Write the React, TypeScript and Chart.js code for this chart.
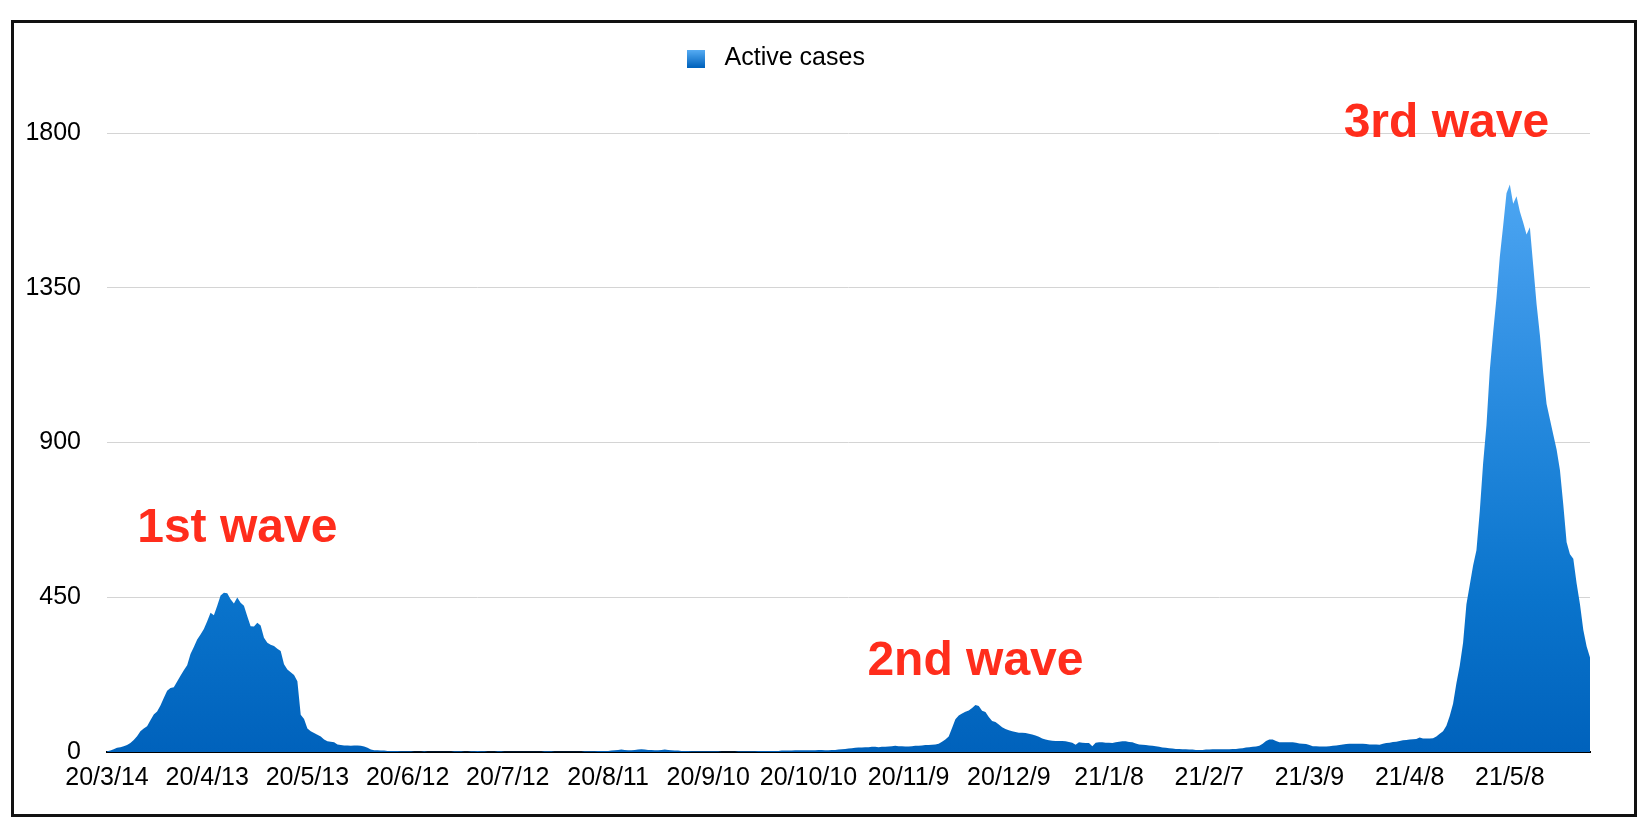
import { useEffect, useRef } from 'react';
import { Chart, registerables } from 'chart.js';

Chart.register(...registerables);

// Daily active cases, starting 2020-03-14
const WAVE1_DAILY = [
  2, 4, 8, 12, 14, 17, 20, 26, 35, 46, 60, 68, 75, 92, 109, 118, 135, 157, 178, 186,
  188, 205, 222, 238, 252, 285, 305, 327, 342, 358,
  380, 405, 398, 425, 455, 463, 462, 444, 432, 449, 434, 425, 395, 366, 365, 376, 368, 332, 318, 312,
  308, 300, 294, 255, 240, 232, 224, 206, 108, 96,
  68, 60, 55, 50, 45, 36, 31, 30, 28, 22, 20, 19, 19, 18, 19, 19, 18, 16, 12, 7,
  5, 5, 4, 4, 3, 3, 3, 3, 2, 2,
];
const LULL_DAILY = [
  2, 2, 1, 1, 1, 2, 1, 1, 1, 1, 1, 1, 1, 1, 2, 2, 2, 1, 1, 2, 2, 3, 2, 2, 1, 1, 1, 2, 2, 1,
  1, 1, 1, 1, 1, 1, 1, 1, 1, 1, 1, 2, 2, 2, 1, 1, 1, 1, 1, 1, 1, 1, 1, 2, 2, 2, 2, 3, 3, 3,
  3, 4, 5, 6, 7, 6, 5, 5, 6, 7, 8, 7, 6, 6, 5, 5, 6, 7, 6, 5, 4, 4, 3, 3, 3, 2, 2, 2, 2, 2,
  2, 2, 2, 2, 1, 1, 1, 1, 1, 2, 2, 2, 2, 2, 2, 3, 3, 3, 3, 3, 3, 3, 4, 4, 4, 4, 5, 5, 5, 5,
  5, 5, 5, 6, 6, 5, 5, 6, 6, 7, 8, 9, 10, 11, 12, 13, 13, 14, 14, 15, 15, 14, 15, 15, 16, 17, 18, 17, 17, 16,
];
const WAVE2_DAILY = [
  16, 17, 18, 18, 19, 20, 20, 21, 22, 24, 30, 36, 45, 70, 95, 106, 112, 117, 121, 128,
  137, 134, 120, 116, 102, 90, 87, 80, 72, 67,
  63, 60, 58, 56, 56, 55, 53, 51, 48, 44, 39, 36, 34, 33, 32, 32, 32, 31, 29, 27,
  21, 28, 27, 26, 26, 17, 27, 28, 28, 27,
  27, 26, 28, 30, 31, 31, 29, 28, 25, 22, 21, 20, 19, 18, 17, 15, 13, 12, 11, 10,
  9, 9, 8, 8, 7, 7, 6, 6, 6, 7,
  7, 8, 8, 8, 8, 8, 8, 9, 9, 10, 11, 13, 14, 15, 16, 18, 24, 32, 36, 36,
  32, 28, 28, 28, 28, 28, 27, 25, 24, 23,
  20, 17, 17, 16, 16, 16, 17, 18, 19, 20, 22, 23, 24, 24, 24, 24, 24, 23, 22, 22,
  22, 21, 24, 26, 27, 29, 30, 32, 34, 35,
];
const WAVE3_DAILY = [
  36, 37, 38, 42, 39, 39, 39, 40, 45, 53, 60, 76, 105, 140, 200, 251, 318, 430, 486, 542,
  587, 700, 840, 950, 1110, 1220, 1320, 1440, 1530, 1625,
  1650, 1594, 1616, 1572, 1540, 1505, 1526, 1415, 1303, 1213, 1102, 1012, 968, 923, 880, 820, 720, 610, 575, 562,
  490, 430, 355, 307, 275,
];

const ACTIVE_CASES = [...WAVE1_DAILY, ...LULL_DAILY, ...WAVE2_DAILY, ...WAVE3_DAILY];

const START_Y = 2020;
const START_M = 3;
const START_D = 14;
const CATEGORIES = ACTIVE_CASES.map((_, i) => {
  const d = new Date(Date.UTC(START_Y, START_M - 1, START_D + i));
  return `${d.getUTCFullYear() % 100}/${d.getUTCMonth() + 1}/${d.getUTCDate()}`;
});
const TICK_EVERY_DAYS = 30;
const Y_TICKS = [0, 450, 900, 1350, 1800];
const Y_MAX = 1960;

const ANNOTATIONS = [
  { text: '1st wave', index: 39, value: 612 },
  { text: '2nd wave', index: 260, value: 224 },
  { text: '3rd wave', index: 401, value: 1788 },
];

const FONT = '"Liberation Sans", Arial, Helvetica, sans-serif';

export default function App() {
  const ref = useRef<HTMLCanvasElement | null>(null);

  useEffect(() => {
    const canvas = ref.current;
    if (!canvas) return;

    const swatch = document.createElement('canvas');
    swatch.width = 18;
    swatch.height = 18;
    const sctx = swatch.getContext('2d')!;
    const sg = sctx.createLinearGradient(0, 0, 0, 18);
    sg.addColorStop(0, '#58AEF5');
    sg.addColorStop(1, '#0062BC');
    sctx.fillStyle = sg;
    sctx.fillRect(0, 0, 18, 18);

    const legendShift = {
      id: 'legendShift',
      afterLayout(chart: any) {
        if (chart.legend) {
          chart.legend.left -= 26;
          chart.legend.right -= 26;
          chart.legend.top += 3;
          chart.legend.bottom += 3;
        }
      },
    };

    const annotations = {
      id: 'waveLabels',
      afterDraw(chart: any) {
        const { ctx, scales } = chart;
        ctx.save();
        ctx.font = `bold 48px ${FONT}`;
        ctx.fillStyle = '#FF2D1C';
        ctx.textAlign = 'center';
        ctx.textBaseline = 'alphabetic';
        for (const a of ANNOTATIONS) {
          const x = scales.x.getPixelForValue(a.index);
          const y = scales.y.getPixelForValue(a.value);
          ctx.fillText(a.text, x, y);
        }
        ctx.restore();
      },
    };

    const chart = new Chart(canvas, {
      type: 'line',
      data: {
        labels: CATEGORIES,
        datasets: [
          {
            label: 'Active cases',
            data: ACTIVE_CASES,
            fill: 'origin',
            borderWidth: 0,
            pointRadius: 0,
            tension: 0,
            backgroundColor: (context: any) => {
              const { chart: c } = context;
              const area = c.chartArea;
              if (!area) return '#0A76CE';
              const g = c.ctx.createLinearGradient(0, area.bottom, 0, area.top);
              g.addColorStop(0, 'rgb(0,98,188)');
              g.addColorStop(0.23, 'rgb(10,116,204)');
              g.addColorStop(0.46, 'rgb(33,134,219)');
              g.addColorStop(0.69, 'rgb(60,152,233)');
              g.addColorStop(0.84, 'rgb(76,166,242)');
              g.addColorStop(1, 'rgb(86,173,247)');
              return g;
            },
          },
        ],
      },
      options: {
        responsive: false,
        animation: false,
        layout: { padding: { top: 10, right: 44, left: 0, bottom: 0 } },
        plugins: {
          tooltip: { enabled: false },
          legend: {
            display: true,
            position: 'top',
            labels: {
              usePointStyle: true,
              boxWidth: 18,
              boxHeight: 18,
              padding: 10,
              color: '#000',
              font: { family: FONT, size: 25 },
              generateLabels: (c: any) =>
                c.data.datasets.map((ds: any, i: number) => ({
                  text: ' ' + ds.label,
                  pointStyle: swatch,
                  fillStyle: '#0A76CE',
                  strokeStyle: 'rgba(0,0,0,0)',
                  lineWidth: 0,
                  hidden: false,
                  datasetIndex: i,
                  fontColor: '#000',
                })),
            },
          },
        },
        scales: {
          x: {
            type: 'category',
            z: 1,
            grid: { display: false, drawTicks: false },
            border: { display: true, color: '#000', width: 2 },
            ticks: {
              autoSkip: false,
              maxRotation: 0,
              minRotation: 0,
              padding: 11,
              color: '#000',
              font: { family: FONT, size: 25 },
              callback: (_v: any, index: number) =>
                index % TICK_EVERY_DAYS === 0 ? CATEGORIES[index] : null,
            },
            afterFit: (scale: any) => {
              scale.height = 62;
            },
          },
          y: {
            min: 0,
            max: Y_MAX,
            border: { display: false },
            grid: {
              drawTicks: false,
              color: (ctx: any) => (ctx.tick && ctx.tick.value === 0 ? 'rgba(0,0,0,0)' : '#D4D4D4'),
              lineWidth: 1,
            },
            afterBuildTicks: (scale: any) => {
              scale.ticks = Y_TICKS.map((v) => ({ value: v }));
            },
            ticks: {
              padding: 26,
              color: '#000',
              font: { family: FONT, size: 25 },
              callback: (v: any) => String(v),
            },
            afterFit: (scale: any) => {
              scale.width = 93;
            },
          },
        },
      },
      plugins: [legendShift, annotations],
    } as any);

    return () => chart.destroy();
  }, []);

  return (
    <div
      style={{
        position: 'absolute',
        left: 11,
        top: 20,
        width: 1626,
        height: 797,
        boxSizing: 'border-box',
        border: '3px solid #111',
        background: '#fff',
      }}
    >
      <canvas ref={ref} width={1620} height={791} style={{ display: 'block', width: 1620, height: 791 }} />
    </div>
  );
}
